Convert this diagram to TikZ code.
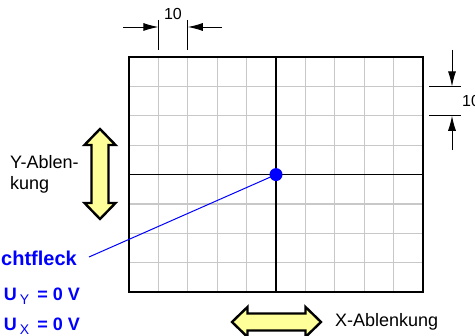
\documentclass[tikz,border=0pt]{standalone}
\usepackage{fontspec}
\setmainfont{Liberation Sans}
\usetikzlibrary{arrows.meta}
\definecolor{arrowfill}{HTML}{FFFF99}
\definecolor{gridgray}{HTML}{C8C8C8}
\definecolor{dotblue}{HTML}{0000FF}
\tikzset{
  minorgrid/.style={gridgray, line width=1.2pt},
  majorline/.style={black, line width=1.8pt},
  dimline/.style={black, line width=0.9pt},
  dimarrow/.style={black, line width=0.9pt, -{Latex[length=15pt,width=8pt]}},
  bigarrow/.style={draw=black, fill=arrowfill, line width=2.4pt, line join=miter},
  lbl/.style={font=\fontsize{18}{21}\selectfont, inner sep=0pt, align=left},
  bluelbl/.style={text=dotblue, font=\fontsize{20}{22}\selectfont\bfseries, inner sep=0pt},
}
\begin{document}
\begin{tikzpicture}[x=1pt,y=-1pt]
\useasboundingbox (0,0) rectangle (475,336);
\clip (0,0) rectangle (475,336);
% grid
\foreach \i in {1,...,9} \draw[minorgrid] (129+\i*29.4,57) -- (129+\i*29.4,292.2);
\foreach \j in {1,...,7} \draw[minorgrid] (129,57+\j*29.4) -- (423,57+\j*29.4);
\draw[majorline] (276,57) -- (276,292.2);
\draw[majorline] (129,174.6) -- (423,174.6);
\draw[majorline] (129,57) rectangle (423,292.2);
% top dimension
\coordinate (t1) at (158.4,20);
\coordinate (t1b) at (158.4,50);
\coordinate (t2) at (187.8,20);
\coordinate (t2b) at (187.8,50);
\draw[dimline] (t1) -- (t1b);
\draw[dimline] (t2) -- (t2b);
\coordinate (tl) at (123,27);
\coordinate (tr) at (222,27);
\draw[dimarrow] (tl) -- (158.4,27);
\draw[dimarrow] (tr) -- (187.8,27);
\node[lbl, font=\fontsize{16}{18}\selectfont] (dimtop) at (173,14) {10};
% right dimension
\draw[dimline] (429,86.4) -- (461,86.4);
\draw[dimline] (429,115.8) -- (461,115.8);
\coordinate (rt) at (452,50);
\coordinate (rb) at (452,150);
\draw[dimarrow] (rt) -- (452,86.4);
\draw[dimarrow] (rb) -- (452,115.8);
\node[lbl, font=\fontsize{16}{18}\selectfont, anchor=west] (dimright) at (462,101) {10};
% Y arrow
\draw[bigarrow] (100,129) -- (115.5,145) -- (108.5,145) -- (108.5,203) -- (115.5,203) -- (100,219)
  -- (84.5,203) -- (91.5,203) -- (91.5,145) -- (84.5,145) -- cycle;
\node[lbl, anchor=north west] (ylabel) at (10,155) {Y-Ablen-\\kung};
% X arrow
\draw[bigarrow] (232,322) -- (247.5,307) -- (247.5,313.5) -- (305.5,313.5) -- (305.5,307) -- (321,322)
  -- (305.5,337) -- (305.5,330.5) -- (247.5,330.5) -- (247.5,337) -- cycle;
\node[lbl, anchor=west] (xlabel) at (335,322) {X-Ablenkung};
% dot and label
\node[circle, fill=dotblue, inner sep=0pt, minimum size=13pt] (dot) at (276,174.6) {};
\node[bluelbl, anchor=base east] (leucht) at (77,266) {Leuchtfleck};
\coordinate (lstart) at (89,257);
\draw[dotblue, line width=1pt] (lstart) -- (dot.center);
\node[dotblue, font=\fontsize{18}{20}\selectfont\bfseries, inner sep=0pt, anchor=base east] (uy) at (80,301)
  {U\,{\mdseries\raisebox{-4pt}{\fontsize{14}{16}\selectfont Y}}\, = 0 V};
\node[dotblue, font=\fontsize{18}{20}\selectfont\bfseries, inner sep=0pt, anchor=base east] (ux) at (80,331)
  {U\,{\mdseries\raisebox{-4pt}{\fontsize{14}{16}\selectfont X}}\, = 0 V};
\end{tikzpicture}
\end{document}
